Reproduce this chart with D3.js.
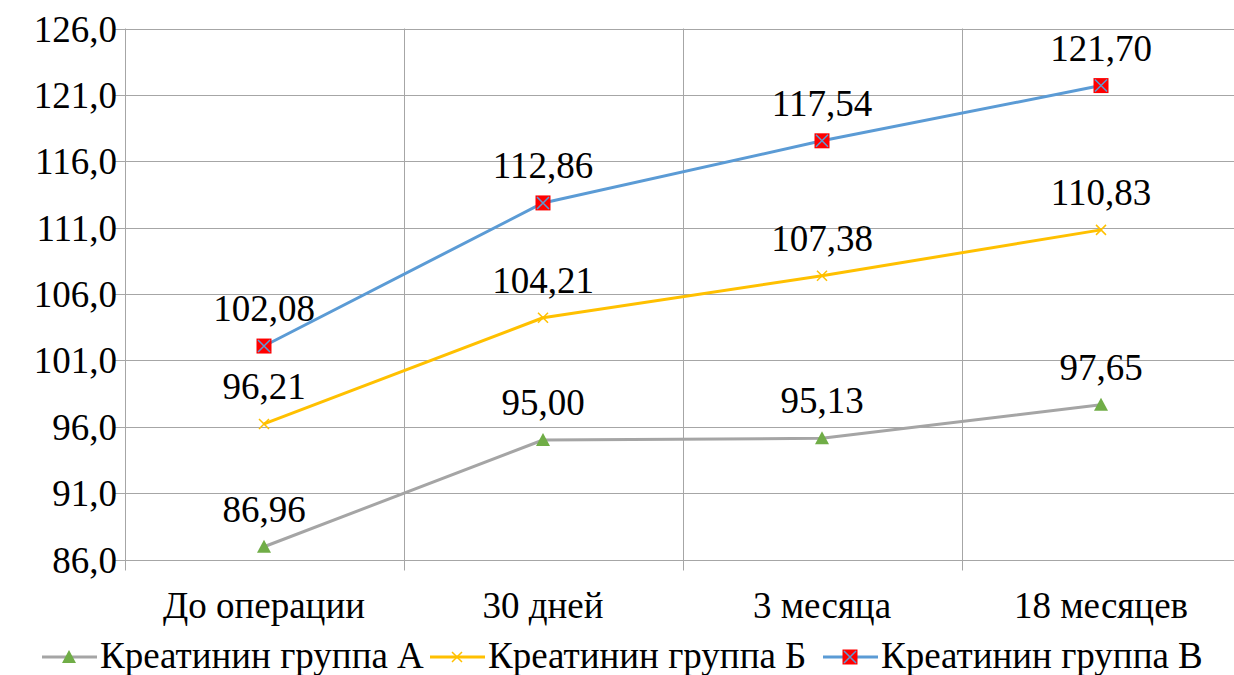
<!DOCTYPE html>
<html><head><meta charset="utf-8">
<script src="https://cdn.jsdelivr.net/npm/d3@7"></script>
<style>body{margin:0;background:#fff}svg{display:block}</style>
</head><body><svg id="c" width="1234" height="675"></svg>
<script>
const categories = ["До операции", "30 дней", "3 месяца", "18 месяцев"];
const seriesNames = ["Креатинин группа А", "Креатинин группа Б", "Креатинин группа В"];
const valuesA = [86.96, 95.00, 95.13, 97.65];
const valuesB = [96.21, 104.21, 107.38, 110.83];
const valuesC = [102.08, 112.86, 117.54, 121.70];
const yTicks = [86, 91, 96, 101, 106, 111, 116, 121, 126];

(function(){
const svg = d3.select("#c");
const pLeft = 124.5, pRight = 1240.5, pTop = 28.5, pBottom = 559.5;
const x = d3.scaleBand().domain(categories).range([pLeft, pRight]);
const y = d3.scaleLinear().domain([86, 126]).range([pBottom, pTop]);
const fmt = v => v.toFixed(2).replace(".", ",");
const fmtY = v => v.toFixed(1).replace(".", ",");
const gridC = "#a6a6a6";

svg.append("g").selectAll("line").data(yTicks).join("line")
  .attr("x1", pLeft - 11).attr("x2", pRight)
  .attr("y1", d => Math.round(y(d)) + 0.5).attr("y2", d => Math.round(y(d)) + 0.5)
  .attr("stroke", gridC).attr("stroke-width", 1);
const edges = categories.map(c => x(c)).concat([pRight]);
svg.append("g").selectAll("line").data(edges).join("line")
  .attr("x1", d => Math.round(d) + 0.5).attr("x2", d => Math.round(d) + 0.5)
  .attr("y1", pTop).attr("y2", pBottom + 11)
  .attr("stroke", gridC).attr("stroke-width", 1);

const txt = sel => sel.style("font-family", "'Liberation Serif'").style("font-size", "37px").attr("fill", "#000");

svg.append("g").selectAll("text").data(yTicks).join("text")
  .attr("x", 117).attr("y", d => y(d) + 13)
  .attr("text-anchor", "end").call(txt).text(fmtY);
svg.append("g").selectAll("text").data(categories).join("text")
  .attr("x", d => x(d) + x.bandwidth() / 2).attr("y", 618)
  .attr("text-anchor", "middle").call(txt).text(d => d);

const series = [
  {name: seriesNames[0], vals: valuesA, color: "#a5a5a5", marker: "tri"},
  {name: seriesNames[1], vals: valuesB, color: "#ffc000", marker: "x"},
  {name: seriesNames[2], vals: valuesC, color: "#5b9bd5", marker: "sq"}
];
const cx = c => x(c) + x.bandwidth() / 2;
const line = d3.line().x(d => cx(d.c)).y(d => y(d.v));

function drawMarker(g, type, px, py) {
  if (type === "tri") {
    g.append("path").attr("d", `M${px},${py-7}L${px+7},${py+6}L${px-7},${py+6}Z`).attr("fill", "#70ad47");
  } else if (type === "x") {
    g.append("path").attr("d", `M${px-5},${py-5}L${px+5},${py+5}M${px-5},${py+5}L${px+5},${py-5}`)
      .attr("stroke", "#ffc000").attr("stroke-width", 1.5);
  } else {
    g.append("rect").attr("x", px - 7.5).attr("y", py - 7.5).attr("width", 15).attr("height", 15).attr("fill", "#ff0000");
    g.append("path").attr("d", `M${px-6},${py-6}L${px+6},${py+6}M${px-6},${py+6}L${px+6},${py-6}`)
      .attr("stroke", "#5b9bd5").attr("stroke-width", 1.5);
  }
}

series.forEach(s => {
  const pts = categories.map((c, i) => ({c, v: s.vals[i]}));
  svg.append("path").datum(pts).attr("d", line).attr("fill", "none")
    .attr("stroke", s.color).attr("stroke-width", 3).attr("stroke-linejoin", "round");
  const g = svg.append("g");
  pts.forEach(p => drawMarker(g, s.marker, cx(p.c), y(p.v)));
  svg.append("g").selectAll("text").data(pts).join("text")
    .attr("x", p => cx(p.c)).attr("y", p => y(p.v) - 25)
    .attr("text-anchor", "middle").call(txt).text(p => fmt(p.v));
});

const legX = [42, 430, 823];
series.forEach((s, i) => {
  const lx = legX[i], ly = 657;
  const g = svg.append("g");
  g.append("line").attr("x1", lx).attr("x2", lx + 55).attr("y1", ly).attr("y2", ly)
    .attr("stroke", s.color).attr("stroke-width", 3);
  drawMarker(g, s.marker, lx + 27, ly);
  g.append("text").attr("x", lx + 58).attr("y", 668)
    .call(txt).text(s.name);
});
})();
</script></body></html>
